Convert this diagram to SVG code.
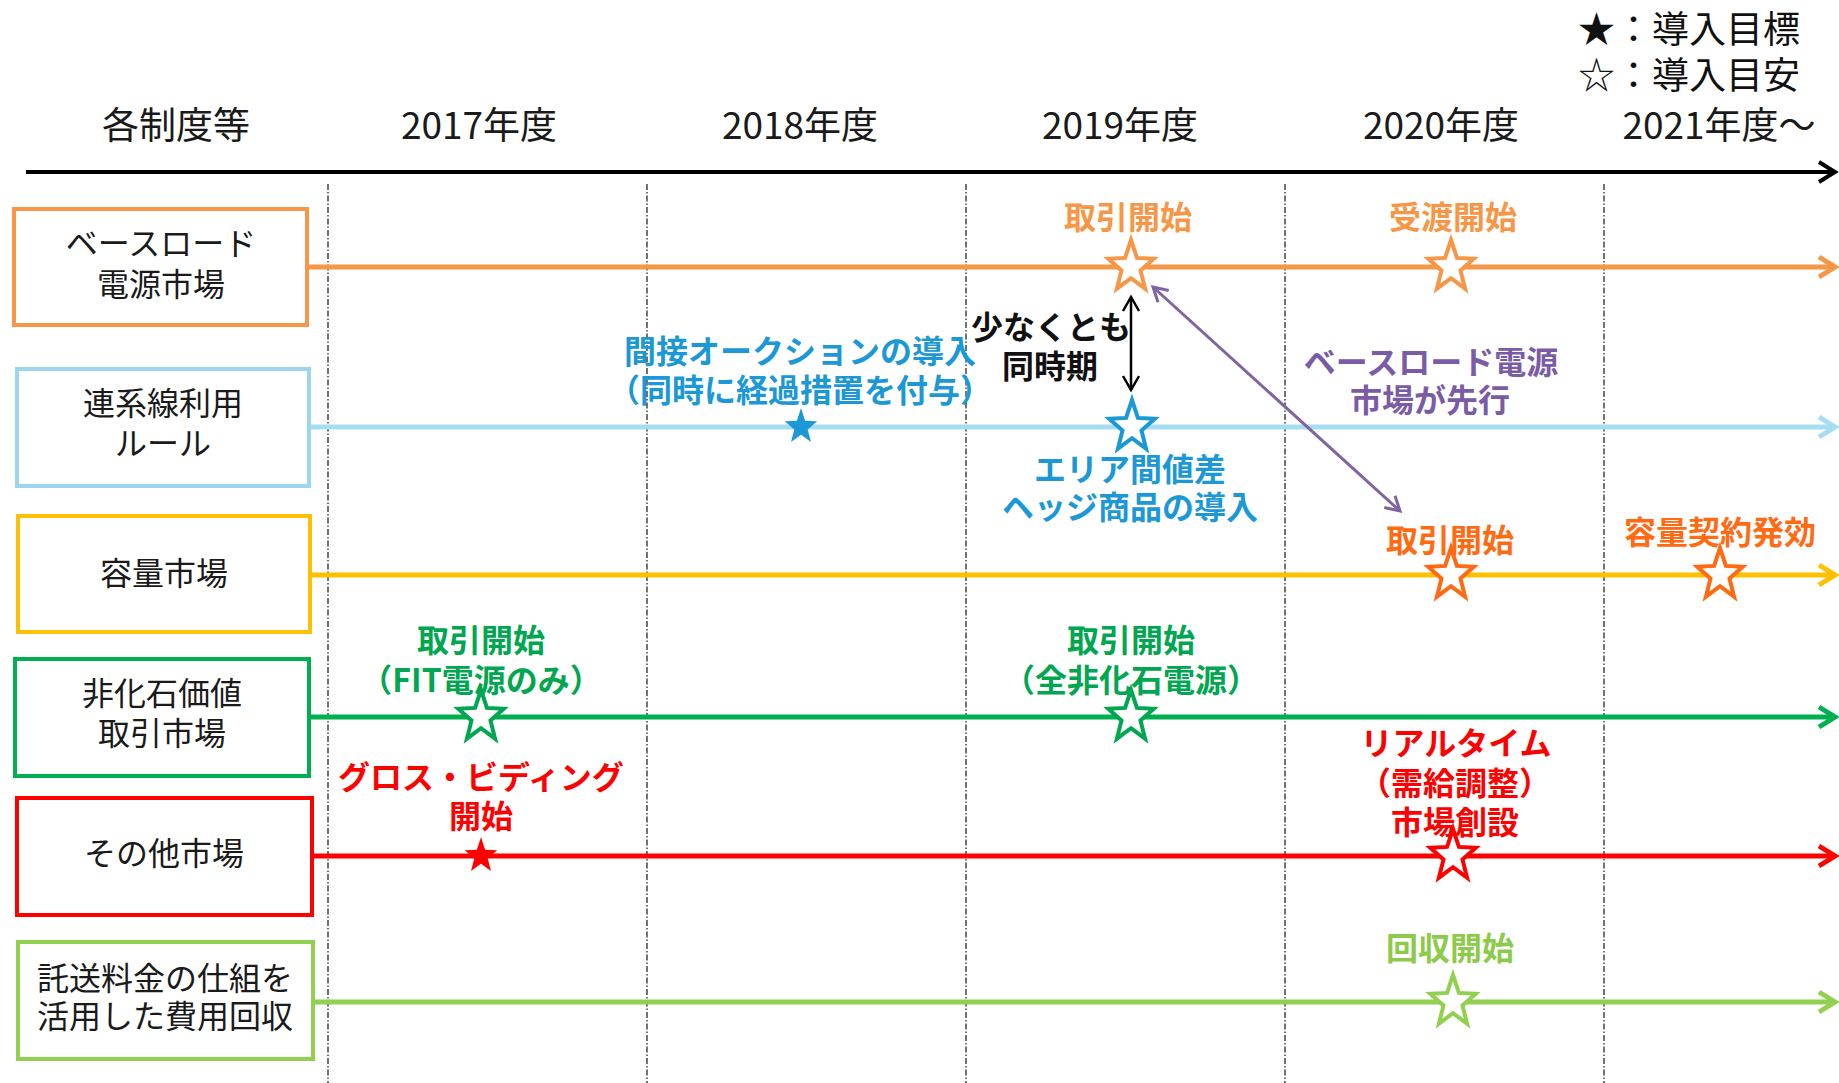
<svg xmlns="http://www.w3.org/2000/svg" xmlns:xlink="http://www.w3.org/1999/xlink" width="1839" height="1083" viewBox="0 0 1839 1083">
<style>
  text { font-family: 'Noto Sans CJK JP', 'Noto Sans', sans-serif; }
  .hdr { font-size: 37px; fill: #1a1a1a; text-anchor: middle; }
  .leg { font-size: 37px; fill: #111; }
  .box { fill: #fff; stroke-width: 4; }
  .bt { font-size: 32px; fill: #1a1a1a; text-anchor: middle; }
  .lb { font-size: 32px; font-weight: bold; text-anchor: middle; }
  .grid { stroke: #444; stroke-width: 1.5; stroke-dasharray: 6 2 1.5 2; fill: none; }
  .row { stroke-width: 5; fill: none; }
  .ostar { stroke-width: 4; fill: #fff; stroke-linejoin: miter; }
</style>
<defs>
  <path id="bigStar" d="M0,-27 L5.9,-9.1 L22.8,-8.3 L9.5,3.5 L14.1,21.7 L0,11.2 L-14.1,21.7 L-9.5,3.5 L-22.8,-8.3 L-5.9,-9.1 Z"/>
  <path id="smallStar" d="M0,-19 L4.1,-6.2 L16.2,-5.8 L6.7,2.4 L10,15.1 L0,7.7 L-10,15.1 L-6.7,2.4 L-16.2,-5.8 L-4.1,-6.2 Z"/>
  <marker id="ahBlack" markerUnits="userSpaceOnUse" viewBox="0 0 24 24" refX="20" refY="12" markerWidth="24" markerHeight="24" orient="auto"><path d="M4,2 L20,12 L4,22" fill="none" stroke="#000" stroke-width="4"/></marker>
  <marker id="ahOrange" markerUnits="userSpaceOnUse" viewBox="0 0 24 26" refX="20" refY="13" markerWidth="24" markerHeight="26" orient="auto"><path d="M4,3 L20,13 L4,23" fill="none" stroke="#F79646" stroke-width="5"/></marker>
  <marker id="ahBlue" markerUnits="userSpaceOnUse" viewBox="0 0 24 26" refX="20" refY="13" markerWidth="24" markerHeight="26" orient="auto"><path d="M4,3 L20,13 L4,23" fill="none" stroke="#A6DDF3" stroke-width="5"/></marker>
  <marker id="ahYellow" markerUnits="userSpaceOnUse" viewBox="0 0 24 26" refX="20" refY="13" markerWidth="24" markerHeight="26" orient="auto"><path d="M4,3 L20,13 L4,23" fill="none" stroke="#FFC000" stroke-width="5"/></marker>
  <marker id="ahGreen" markerUnits="userSpaceOnUse" viewBox="0 0 24 26" refX="20" refY="13" markerWidth="24" markerHeight="26" orient="auto"><path d="M4,3 L20,13 L4,23" fill="none" stroke="#00B050" stroke-width="5"/></marker>
  <marker id="ahRed" markerUnits="userSpaceOnUse" viewBox="0 0 24 26" refX="20" refY="13" markerWidth="24" markerHeight="26" orient="auto"><path d="M4,3 L20,13 L4,23" fill="none" stroke="#FF0000" stroke-width="5"/></marker>
  <marker id="ahLgreen" markerUnits="userSpaceOnUse" viewBox="0 0 24 26" refX="20" refY="13" markerWidth="24" markerHeight="26" orient="auto"><path d="M4,3 L20,13 L4,23" fill="none" stroke="#92D050" stroke-width="5"/></marker>
  <marker id="ahThin" markerUnits="userSpaceOnUse" viewBox="0 0 20 20" refX="16" refY="10" markerWidth="20" markerHeight="20" orient="auto-start-reverse"><path d="M2,2 L16,10 L2,18" fill="none" stroke="#000" stroke-width="2.5"/></marker>
  <marker id="ahPurple" markerUnits="userSpaceOnUse" viewBox="0 0 20 20" refX="16" refY="10" markerWidth="20" markerHeight="20" orient="auto-start-reverse"><path d="M2,2 L16,10 L2,18" fill="none" stroke="#8064A2" stroke-width="3"/></marker>
</defs>
<rect x="0" y="0" width="1839" height="1083" fill="#fff"/>

<g id="header">
  <text class="hdr" x="176" y="139">各制度等</text>
  <text class="hdr" x="479" y="139">2017年度</text>
  <text class="hdr" x="800" y="139">2018年度</text>
  <text class="hdr" x="1120" y="139">2019年度</text>
  <text class="hdr" x="1441" y="139">2020年度</text>
  <text class="hdr" x="1719" y="139">2021年度～</text>
</g>

<g id="legend">
  <text class="leg" x="1578" y="43">★：導入目標</text>
  <text class="leg" x="1578" y="89">☆：導入目安</text>
</g>

<g id="grid">
  <line class="grid" x1="328" y1="184" x2="328" y2="1083"/>
  <line class="grid" x1="647" y1="184" x2="647" y2="1083"/>
  <line class="grid" x1="966" y1="184" x2="966" y2="1083"/>
  <line class="grid" x1="1285" y1="184" x2="1285" y2="1083"/>
  <line class="grid" x1="1604" y1="184" x2="1604" y2="1083"/>
</g>

<g id="connectors">
  <line x1="26" y1="172" x2="1835" y2="172" stroke="#000" stroke-width="4" marker-end="url(#ahBlack)"/>
  <line class="row" x1="308" y1="267" x2="1835" y2="267" stroke="#F79646" marker-end="url(#ahOrange)"/>
  <line class="row" x1="311" y1="427" x2="1835" y2="427" stroke="#A6DDF3" marker-end="url(#ahBlue)"/>
  <line class="row" x1="312" y1="575" x2="1835" y2="575" stroke="#FFC000" marker-end="url(#ahYellow)"/>
  <line class="row" x1="311" y1="717" x2="1835" y2="717" stroke="#00B050" marker-end="url(#ahGreen)"/>
  <line class="row" x1="314" y1="856" x2="1835" y2="856" stroke="#FF0000" marker-end="url(#ahRed)"/>
  <line class="row" x1="315" y1="1002" x2="1835" y2="1002" stroke="#92D050" marker-end="url(#ahLgreen)"/>
  <line x1="1131" y1="297" x2="1131" y2="390" stroke="#000" stroke-width="2.5" marker-start="url(#ahThin)" marker-end="url(#ahThin)"/>
  <line x1="1153" y1="287" x2="1400" y2="511" stroke="#8064A2" stroke-width="3" marker-start="url(#ahPurple)" marker-end="url(#ahPurple)"/>
</g>

<g id="node-baseload">
  <rect class="box" x="14" y="209" width="293" height="116" stroke="#F79646"/>
  <text class="bt" x="161" y="255">ベースロード</text>
  <text class="bt" x="161" y="296">電源市場</text>
</g>
<g id="node-interconnect">
  <rect class="box" x="17" y="369" width="292" height="117" stroke="#9DD5EC"/>
  <text class="bt" x="163" y="415">連系線利用</text>
  <text class="bt" x="163" y="455">ルール</text>
</g>
<g id="node-capacity">
  <rect class="box" x="18" y="516" width="292" height="116" stroke="#FFC000"/>
  <text class="bt" x="164" y="585">容量市場</text>
</g>
<g id="node-nonfossil">
  <rect class="box" x="15" y="659" width="294" height="117" stroke="#00B050"/>
  <text class="bt" x="162" y="705">非化石価値</text>
  <text class="bt" x="162" y="745">取引市場</text>
</g>
<g id="node-other">
  <rect class="box" x="17" y="798" width="295" height="117" stroke="#FF0000"/>
  <text class="bt" x="164" y="865">その他市場</text>
</g>
<g id="node-wheeling">
  <rect class="box" x="18" y="942" width="295" height="117" stroke="#92D050"/>
  <text class="bt" x="165" y="990">託送料金の仕組を</text>
  <text class="bt" x="165" y="1028">活用した費用回収</text>
</g>

<g id="milestones-baseload" fill="#F79646">
  <text class="lb" x="1128" y="229">取引開始</text>
  <text class="lb" x="1453" y="229">受渡開始</text>
  <use xlink:href="#bigStar" class="ostar" x="1131" y="267" stroke="#F79646"/>
  <use xlink:href="#bigStar" class="ostar" x="1451" y="267" stroke="#F79646"/>
</g>

<g id="note-simultaneous" fill="#111">
  <text class="lb" x="1051" y="339">少なくとも</text>
  <text class="lb" x="1050" y="378">同時期</text>
</g>

<g id="note-baseload-first" fill="#7A5CA6">
  <text class="lb" x="1431" y="374">ベースロード電源</text>
  <text class="lb" x="1430" y="412">市場が先行</text>
</g>

<g id="milestones-interconnect" fill="#1B98D5">
  <text class="lb" x="800" y="363">間接オークションの導入</text>
  <text class="lb" x="800" y="402">（同時に経過措置を付与）</text>
  <use xlink:href="#smallStar" x="801" y="427" fill="#1B98D5"/>
  <use xlink:href="#bigStar" class="ostar" x="1132" y="427" stroke="#1B98D5"/>
  <text class="lb" x="1130" y="481">エリア間値差</text>
  <text class="lb" x="1130" y="519">ヘッジ商品の導入</text>
</g>

<g id="milestones-capacity" fill="#FF6A13">
  <text class="lb" x="1450" y="552">取引開始</text>
  <text class="lb" x="1720" y="544">容量契約発効</text>
  <use xlink:href="#bigStar" class="ostar" x="1451" y="575" stroke="#FF6A13"/>
  <use xlink:href="#bigStar" class="ostar" x="1720" y="575" stroke="#FF6A13"/>
</g>

<g id="milestones-nonfossil" fill="#00A650">
  <text class="lb" x="481" y="652">取引開始</text>
  <text class="lb" x="481" y="692">（FIT電源のみ）</text>
  <text class="lb" x="1131" y="652">取引開始</text>
  <text class="lb" x="1131" y="692">（全非化石電源）</text>
  <use xlink:href="#bigStar" class="ostar" x="481" y="717" stroke="#00A650"/>
  <use xlink:href="#bigStar" class="ostar" x="1131" y="717" stroke="#00A650"/>
</g>

<g id="milestones-other" fill="#FF0000">
  <text class="lb" x="481" y="789">グロス・ビディング</text>
  <text class="lb" x="481" y="828">開始</text>
  <use xlink:href="#smallStar" x="481" y="856" fill="#FF0000"/>
  <text class="lb" x="1456" y="755">リアルタイム</text>
  <text class="lb" x="1455" y="795">（需給調整）</text>
  <text class="lb" x="1455" y="834">市場創設</text>
  <use xlink:href="#bigStar" class="ostar" x="1453" y="856" stroke="#FF0000"/>
</g>

<g id="milestones-wheeling" fill="#8CCB4A">
  <text class="lb" x="1450" y="960">回収開始</text>
  <use xlink:href="#bigStar" class="ostar" x="1453" y="1002" stroke="#92D050"/>
</g>
</svg>
